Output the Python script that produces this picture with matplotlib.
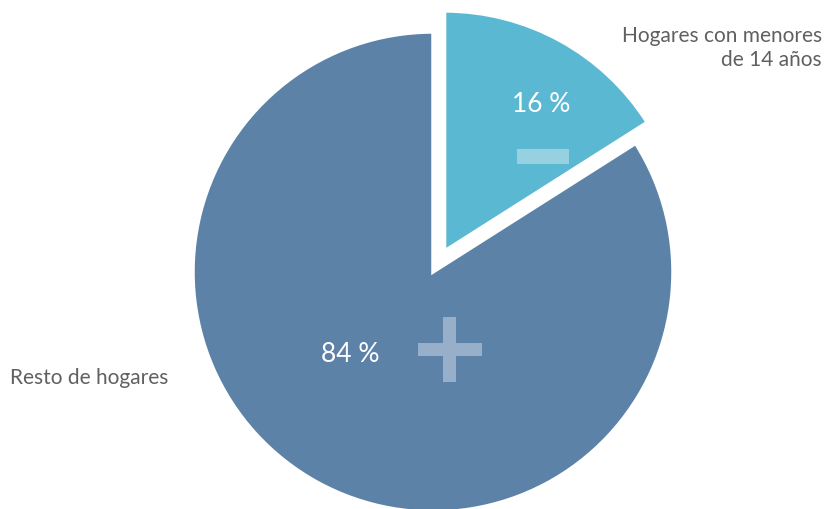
import matplotlib.pyplot as plt
from matplotlib.patches import Rectangle

categories = ['Hogares con menores\nde 14 años', 'Resto de hogares']
shares = [16, 84]
share_labels = ['16 %', '84 %']
colors = ['#5bb8d2', '#5c83a7']

fig = plt.figure(figsize=(8.24, 5.1), dpi=100)
ax = fig.add_axes([0, 0, 1, 1])

cx, cy, r = 433, 237, 240
# pie's explode is in data units, so scale by the radius
ax.pie(shares, colors=colors, startangle=90, counterclock=False,
       explode=[0.1 * r, 0], center=(cx, cy), radius=r,
       wedgeprops=dict(edgecolor='white', linewidth=2.5))

ax.set_xlim(0, 824)
ax.set_ylim(0, 510)
ax.set_aspect('equal')
ax.axis('off')

font = 'Lato'
txt = '#606060'
ax.text(822, 462, categories[0], ha='right', va='center', fontsize=15,
        color=txt, family=font, linespacing=1.3)
ax.text(10, 132, categories[1], ha='left', va='center', fontsize=15,
        color=txt, family=font)

ax.text(541, 405, share_labels[0], ha='center', va='center', fontsize=19,
        color='white', family=font)
ax.text(350, 155, share_labels[1], ha='center', va='center', fontsize=19,
        color='white', family=font)

# minus sign on the small slice
ax.add_patch(Rectangle((517, 345), 52, 15, color='#96d0e1', lw=0))
# plus sign on the big slice
ax.add_patch(Rectangle((418, 153), 64, 13, color='#97afc8', lw=0))
ax.add_patch(Rectangle((443.5, 127), 13, 65, color='#97afc8', lw=0))

fig.savefig('out.png', dpi=100)
